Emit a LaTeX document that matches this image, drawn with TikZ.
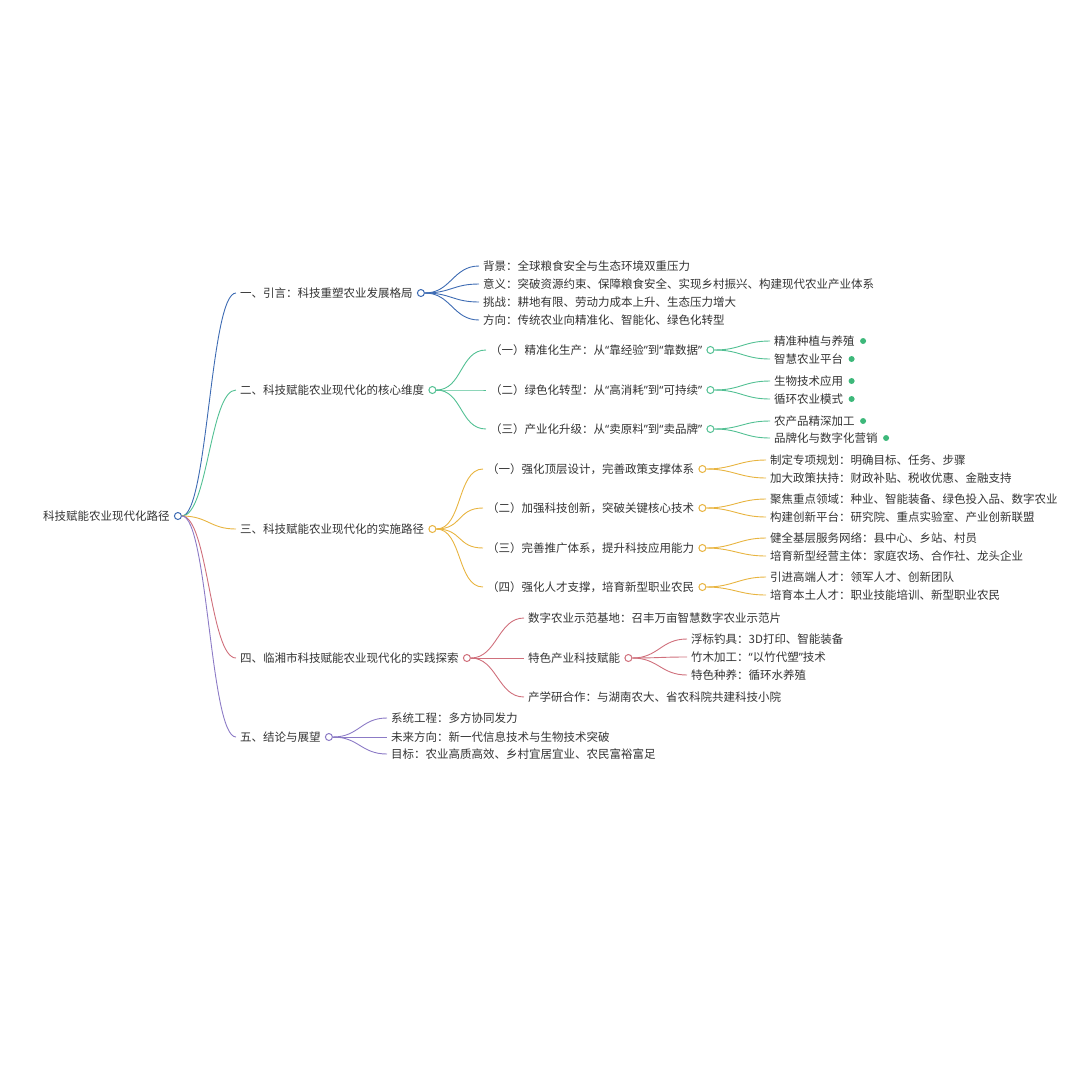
\documentclass[tikz,border=0pt]{standalone}
\usepackage{fontspec}
\setmainfont{Noto Sans CJK SC}
\newfontfamily\quotefont{Noto Sans}
\newcommand\cq[1]{{\quotefont “}#1{\quotefont ”}}
\usetikzlibrary{positioning}
\definecolor{ink}{HTML}{333333}
\definecolor{mmblue}{HTML}{3D6BB3}
\definecolor{mmgreen}{HTML}{52C093}
\definecolor{mmdot}{HTML}{3DB87A}
\definecolor{mmorange}{HTML}{E8B440}
\definecolor{mmred}{HTML}{D0707C}
\definecolor{mmpurple}{HTML}{8C7BC6}

\begin{document}
\begin{tikzpicture}[x=1pt, y=-1pt,
  topic/.style={font=\fontsize{11.5}{13}\selectfont, text=ink, anchor=west, inner xsep=4pt, inner ysep=1pt},
  knob/.style={circle, draw=#1, fill=white, line width=1pt, minimum size=7pt, inner sep=0pt},
  leafdot/.style={circle, fill=mmdot, minimum size=6pt, inner sep=0pt},
  link/.style={draw=#1, line width=0.9pt, to path={.. controls +(26,0) and +(-26,0) .. (\tikztotarget)}}
]
  \useasboundingbox (0,0) rectangle (1080,1080);

  % root
  \node[topic] (root) at (39,516) {科技赋能农业现代化路径};
  \node[knob=mmblue, right=0pt of root] (rootk) {};

  % main branches
  \node[topic] (intro) at (236,293) {一、引言：科技重塑农业发展格局};
  \node[knob=mmblue, right=0pt of intro] (introk) {};
  \node[topic] (core) at (236,390) {二、科技赋能农业现代化的核心维度};
  \node[knob=mmgreen, right=0pt of core] (corek) {};
  \node[topic] (path) at (236,529) {三、科技赋能农业现代化的实施路径};
  \node[knob=mmorange, right=0pt of path] (pathk) {};
  \node[topic] (case) at (236,658) {四、临湘市科技赋能农业现代化的实践探索};
  \node[knob=mmred, right=0pt of case] (casek) {};
  \node[topic] (outlook) at (236,737) {五、结论与展望};
  \node[knob=mmpurple, right=0pt of outlook] (outlookk) {};

  % intro
  \node[topic] (introa) at (479,266) {背景：全球粮食安全与生态环境双重压力};
  \node[topic] (introb) at (479,284) {意义：突破资源约束、保障粮食安全、实现乡村振兴、构建现代农业产业体系};
  \node[topic] (introc) at (479,302) {挑战：耕地有限、劳动力成本上升、生态压力增大};
  \node[topic] (introd) at (479,320) {方向：传统农业向精准化、智能化、绿色化转型};

  % core dimensions
  \node[topic] (corea) at (486,350) {（一）精准化生产：从\cq{靠经验}到\cq{靠数据}};
  \node[knob=mmgreen, right=0pt of corea] (coreak) {};
  \node[topic] (coreb) at (486,390) {（二）绿色化转型：从\cq{高消耗}到\cq{可持续}};
  \node[knob=mmgreen, right=0pt of coreb] (corebk) {};
  \node[topic] (corec) at (486,429) {（三）产业化升级：从\cq{卖原料}到\cq{卖品牌}};
  \node[knob=mmgreen, right=0pt of corec] (coreck) {};

  \node[topic] (corea1) at (770,341) {精准种植与养殖};
  \node[leafdot, right=1pt of corea1] {};
  \node[topic] (corea2) at (770,359) {智慧农业平台};
  \node[leafdot, right=1pt of corea2] {};
  \node[topic] (coreb1) at (770,381) {生物技术应用};
  \node[leafdot, right=1pt of coreb1] {};
  \node[topic] (coreb2) at (770,399) {循环农业模式};
  \node[leafdot, right=1pt of coreb2] {};
  \node[topic] (corec1) at (770,421) {农产品精深加工};
  \node[leafdot, right=1pt of corec1] {};
  \node[topic] (corec2) at (770,438) {品牌化与数字化营销};
  \node[leafdot, right=1pt of corec2] {};

  % implementation path
  \node[topic] (patha) at (483,469) {（一）强化顶层设计，完善政策支撑体系};
  \node[knob=mmorange, right=0pt of patha] (pathak) {};
  \node[topic] (pathb) at (483,508) {（二）加强科技创新，突破关键核心技术};
  \node[knob=mmorange, right=0pt of pathb] (pathbk) {};
  \node[topic] (pathc) at (483,548) {（三）完善推广体系，提升科技应用能力};
  \node[knob=mmorange, right=0pt of pathc] (pathck) {};
  \node[topic] (pathd) at (483,587) {（四）强化人才支撑，培育新型职业农民};
  \node[knob=mmorange, right=0pt of pathd] (pathdk) {};

  \node[topic] (patha1) at (766,460) {制定专项规划：明确目标、任务、步骤};
  \node[topic] (patha2) at (766,478) {加大政策扶持：财政补贴、税收优惠、金融支持};
  \node[topic] (pathb1) at (766,499) {聚焦重点领域：种业、智能装备、绿色投入品、数字农业};
  \node[topic] (pathb2) at (766,517) {构建创新平台：研究院、重点实验室、产业创新联盟};
  \node[topic] (pathc1) at (766,538) {健全基层服务网络：县中心、乡站、村员};
  \node[topic] (pathc2) at (766,556) {培育新型经营主体：家庭农场、合作社、龙头企业};
  \node[topic] (pathd1) at (766,577) {引进高端人才：领军人才、创新团队};
  \node[topic] (pathd2) at (766,595) {培育本土人才：职业技能培训、新型职业农民};

  % Linxiang practice
  \node[topic] (casea) at (524,618) {数字农业示范基地：召丰万亩智慧数字农业示范片};
  \node[topic] (caseb) at (524,658) {特色产业科技赋能};
  \node[knob=mmred, right=0pt of caseb] (casebk) {};
  \node[topic] (casec) at (524,697) {产学研合作：与湖南农大、省农科院共建科技小院};

  \node[topic] (caseb1) at (687,639) {浮标钓具：3D打印、智能装备};
  \node[topic] (caseb2) at (687,657) {竹木加工：\cq{以竹代塑}技术};
  \node[topic] (caseb3) at (687,675) {特色种养：循环水养殖};

  % outlook
  \node[topic] (outlooka) at (387,718) {系统工程：多方协同发力};
  \node[topic] (outlookb) at (387,737) {未来方向：新一代信息技术与生物技术突破};
  \node[topic] (outlookc) at (387,754) {目标：农业高质高效、乡村宜居宜业、农民富裕富足};

  % connectors
  \draw[link=mmblue] (rootk.east) to (intro.west);
  \draw[link=mmgreen] (rootk.east) to (core.west);
  \draw[link=mmorange] (rootk.east) to (path.west);
  \draw[link=mmred] (rootk.east) to (case.west);
  \draw[link=mmpurple] (rootk.east) to (outlook.west);

  \draw[link=mmblue] (introk.east) to (introa.west);
  \draw[link=mmblue] (introk.east) to (introb.west);
  \draw[link=mmblue] (introk.east) to (introc.west);
  \draw[link=mmblue] (introk.east) to (introd.west);

  \draw[link=mmgreen] (corek.east) to (corea.west);
  \draw[link=mmgreen] (corek.east) to (coreb.west);
  \draw[link=mmgreen] (corek.east) to (corec.west);
  \draw[link=mmgreen] (coreak.east) to (corea1.west);
  \draw[link=mmgreen] (coreak.east) to (corea2.west);
  \draw[link=mmgreen] (corebk.east) to (coreb1.west);
  \draw[link=mmgreen] (corebk.east) to (coreb2.west);
  \draw[link=mmgreen] (coreck.east) to (corec1.west);
  \draw[link=mmgreen] (coreck.east) to (corec2.west);

  \draw[link=mmorange] (pathk.east) to (patha.west);
  \draw[link=mmorange] (pathk.east) to (pathb.west);
  \draw[link=mmorange] (pathk.east) to (pathc.west);
  \draw[link=mmorange] (pathk.east) to (pathd.west);
  \draw[link=mmorange] (pathak.east) to (patha1.west);
  \draw[link=mmorange] (pathak.east) to (patha2.west);
  \draw[link=mmorange] (pathbk.east) to (pathb1.west);
  \draw[link=mmorange] (pathbk.east) to (pathb2.west);
  \draw[link=mmorange] (pathck.east) to (pathc1.west);
  \draw[link=mmorange] (pathck.east) to (pathc2.west);
  \draw[link=mmorange] (pathdk.east) to (pathd1.west);
  \draw[link=mmorange] (pathdk.east) to (pathd2.west);

  \draw[link=mmred] (casek.east) to (casea.west);
  \draw[link=mmred] (casek.east) to (caseb.west);
  \draw[link=mmred] (casek.east) to (casec.west);
  \draw[link=mmred] (casebk.east) to (caseb1.west);
  \draw[link=mmred] (casebk.east) to (caseb2.west);
  \draw[link=mmred] (casebk.east) to (caseb3.west);

  \draw[link=mmpurple] (outlookk.east) to (outlooka.west);
  \draw[link=mmpurple] (outlookk.east) to (outlookb.west);
  \draw[link=mmpurple] (outlookk.east) to (outlookc.west);
\end{tikzpicture}
\end{document}
